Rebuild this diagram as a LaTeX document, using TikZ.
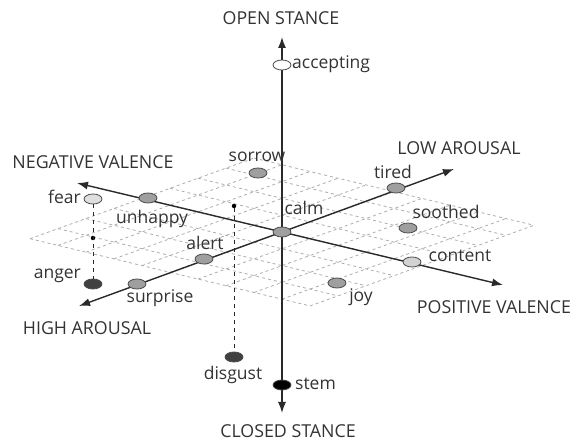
\documentclass[tikz,border=0pt]{standalone}
\usepackage{fontspec}
\setmainfont{Open Sans}
\usetikzlibrary{shapes.geometric,arrows.meta}
\definecolor{txt}{HTML}{333333}
\definecolor{axis}{HTML}{2A2A2A}
\definecolor{gridc}{HTML}{ADADAD}
\tikzset{
  axisline/.style={draw=axis,line width=1.4pt,-{Latex[length=11pt,width=8pt]}},
  gridline/.style={draw=gridc,line width=0.8pt,dash pattern=on 3pt off 3pt},
  dropline/.style={draw=axis,line width=0.9pt,dash pattern=on 4pt off 4pt},
  dot/.style={ellipse,draw=axis!85,line width=0.8pt,minimum width=18pt,minimum height=10pt,inner sep=0pt,fill=#1},
  dot/.default={gray!75},
  smalldot/.style={circle,fill=black,minimum size=4.5pt,inner sep=0pt},
  lbl/.style={text=txt,inner sep=0pt,font=\fontsize{17.5}{20}\selectfont},
  axlbl/.style={text=txt,inner sep=0pt,font=\fontsize{17.8}{20}\selectfont},
}
\begin{document}
\begin{tikzpicture}[x=1pt,y=-1pt]
\useasboundingbox (0,0) rectangle (571,443);
% grid in the valence/arousal plane
\foreach \i in {-5,...,5}{
  \draw[gridline] ({282+28*\i-112},{232+28*\i*0.24+112*0.36}) -- ({282+28*\i+112},{232+28*\i*0.24-112*0.36});
}
\foreach \j in {-4,...,4}{
  \draw[gridline] ({282-140+28*\j},{232-33.6-0.36*28*\j}) -- ({282+140+28*\j},{232+33.6-0.36*28*\j});
}
% axis tips
\coordinate (c) at (282,232);
\coordinate (topT) at (282,37);
\coordinate (botT) at (282,413);
\coordinate (negT) at (77,183);
\coordinate (posT) at (503,285);
\coordinate (hiT) at (79,306);
\coordinate (loT) at (454,169);
\draw[axisline] (c) -- (topT);
\draw[axisline] (c) -- (botT);
\draw[axisline] (c) -- (negT);
\draw[axisline] (c) -- (posT);
\draw[axisline] (c) -- (hiT);
\draw[axisline] (c) -- (loT);
% drop lines
\node[smalldot] (fd) at (93,238) {};
\node[smalldot] (dd) at (234,206) {};
\node[dot=gray!25] (fear) at (93,199) {};
\node[dot=black!75] (anger) at (93,284) {};
\node[dot=black!75] (disgust) at (234,357) {};
\draw[dropline] (fear) -- (anger);
\draw[dropline] (dd) -- (disgust);
% points
\node[dot=white] (accepting) at (282,65) {};
\node[dot] (sorrow) at (258,173) {};
\node[dot] (tired) at (396,188) {};
\node[dot] (unhappy) at (148,198) {};
\node[dot] (calm) at (282,232) {};
\node[dot] (soothed) at (408,228) {};
\node[dot] (alert) at (204,259) {};
\node[dot=gray!35] (content) at (412,262) {};
\node[dot] (surprise) at (137,284) {};
\node[dot] (joy) at (337,283) {};
\node[dot=black] (stem) at (282,385) {};
% point labels
\node[lbl,anchor=west] (lacc) at (292,64) {accepting};
\node[lbl] (lsor) at (257,157) {sorrow};
\node[lbl] (ltir) at (393,172) {tired};
\node[lbl,anchor=east] (lfear) at (81,197) {fear};
\node[lbl] (lunh) at (152,219) {unhappy};
\node[lbl] (lcalm) at (304,208) {calm};
\node[lbl] (lsoo) at (446,212) {soothed};
\node[lbl] (lale) at (205,243) {alert};
\node[lbl] (lcon) at (460,256) {content};
\node[lbl,anchor=east] (lang) at (81,276) {anger};
\node[lbl] (lsur) at (160,298) {surprise};
\node[lbl] (ljoy) at (361,297) {joy};
\node[lbl] (ldis) at (233,375) {disgust};
\node[lbl,anchor=west] (lstem) at (295,384) {stem};
% axis labels
\node[axlbl] (open) at (281,18) {OPEN STANCE};
\node[axlbl] (closed) at (288,431) {CLOSED STANCE};
\node[axlbl] (neg) at (93,162) {NEGATIVE VALENCE};
\node[axlbl] (low) at (459,148) {LOW AROUSAL};
\node[axlbl] (high) at (87,328) {HIGH AROUSAL};
\node[axlbl] (pos) at (494,307) {POSITIVE VALENCE};
\end{tikzpicture}
\end{document}
